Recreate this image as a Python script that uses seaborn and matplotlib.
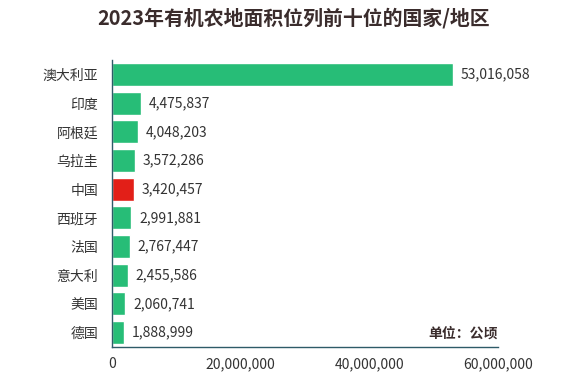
import matplotlib
matplotlib.use("Agg")
import matplotlib.pyplot as plt
import matplotlib.ticker as mticker
import seaborn as sns
import pandas as pd

countries = ['澳大利亚', '印度', '阿根廷', '乌拉圭', '中国', '西班牙', '法国', '意大利', '美国', '德国']
areas = [53016058, 4475837, 4048203, 3572286, 3420457, 2991881, 2767447, 2455586, 2060741, 1888999]
highlight = '中国'

df = pd.DataFrame({'country': countries, 'area': areas})

sns.set_style('white')
plt.rcParams['font.family'] = ['Noto Sans CJK SC', 'DejaVu Sans']

green = '#27BD77'
red = '#E21F18'
axis_col = '#2E5B68'
text_col = '#333333'
palette = [red if c == highlight else green for c in countries]

fig = plt.figure(figsize=(5.87, 3.83), dpi=100)
ax = fig.add_axes([0.191, 0.094, 0.657, 0.749])

sns.barplot(data=df, y='country', x='area', hue='country', palette=palette,
            legend=False, width=0.8, ax=ax, saturation=1)

for i, v in enumerate(areas):
    ax.text(v + 1.2e6, i, f'{v:,}', va='center', ha='left', fontsize=10, color=text_col)

ax.set_xlim(0, 60e6)
ax.set_ylim(9.5, -0.5)
ax.xaxis.set_major_locator(mticker.MultipleLocator(20e6))
ax.xaxis.set_major_formatter(mticker.FuncFormatter(lambda x, p: f'{int(x):,}'))
ax.set_xlabel('')
ax.set_ylabel('')

# y ticks between categories
ax.set_yticks(range(len(countries)))
ax.set_yticklabels(countries)
ax.tick_params(axis='y', length=0, labelsize=10, labelcolor=text_col, pad=10)
ax.set_yticks([i - 0.5 for i in range(len(countries) + 1)], minor=True)
ax.tick_params(axis='y', which='minor', length=4, color=axis_col, width=1)
ax.tick_params(axis='x', length=4, color=axis_col, labelsize=10, labelcolor=text_col, width=1)

for s in ['top', 'right']:
    ax.spines[s].set_visible(False)
for s in ['left', 'bottom']:
    ax.spines[s].set_color(axis_col)
    ax.spines[s].set_linewidth(1)

fig.text(0.5, 0.953, '2023年有机农地面积位列前十位的国家/地区', ha='center', va='center',
         fontsize=14.3, fontweight='bold', color='#3A2C2C')
ax.text(1.0, 9.05, '单位：公顷', ha='right', va='center', fontsize=10,
        fontweight='bold', color='#3A2C2C', transform=ax.get_yaxis_transform())

fig.savefig('out.png', dpi=100)
